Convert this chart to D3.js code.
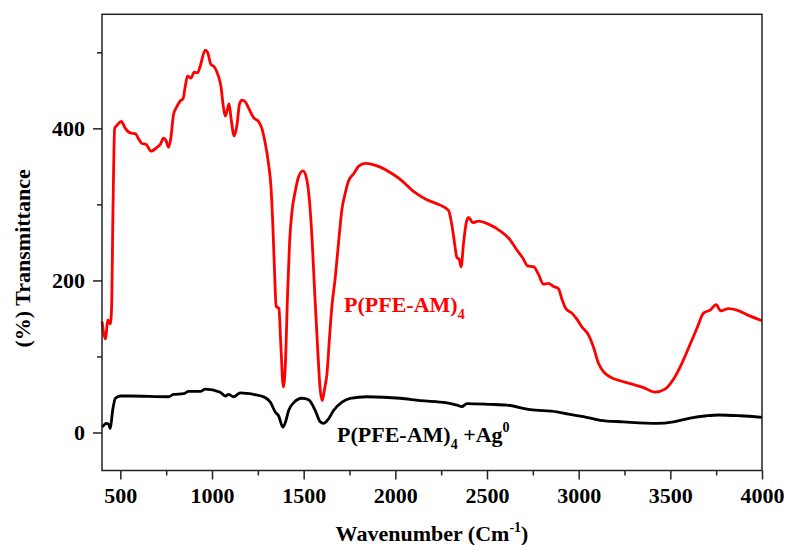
<!DOCTYPE html>
<html>
<head>
<meta charset="utf-8">
<script src="https://cdn.jsdelivr.net/npm/d3@7"></script>
<style>
  html, body { margin: 0; padding: 0; background: #fff; }
  svg text { font-family: "Liberation Serif", "Times New Roman", serif; font-weight: bold; }
</style>
</head>
<body>
<svg id="chart" width="787" height="545"></svg>
<script>
// Wavenumbers (cm-1) and transmittance values
const redX = [400,420,431,445,452,460,469,482,505,527,554,582,600,618,640,667,700,718,736,749,763,776,790,809,827,842,854,867,885,903,921,936,963,976,994,1012,1036,1049,1060,1072,1082,1093,1104,1121,1136,1150,1163,1181,1199,1227,1254,1272,1290,1308,1322,1332,1341,1350,1365,1376,1389,1400,1412,1423,1436,1454,1472,1496,1514,1532,1547,1561,1576,1590,1601,1614,1627,1641,1654,1672,1690,1709,1727,1745,1772,1799,1836,1881,1918,1972,2027,2099,2172,2245,2290,2309,2323,2336,2348,2359,2372,2387,2399,2423,2454,2508,2572,2627,2663,2699,2721,2754,2781,2808,2835,2863,2890,2908,2930,2963,2990,3017,3054,3081,3108,3135,3172,3226,3299,3354,3417,3471,3517,3563,3608,3645,3681,3717,3750,3775,3817,3863,3917,4000];
const redY = [146,123,148,143,162,294,400,404,409,400,394,393,386,380,379,370,375,379,387,384,375,388,418,429,436,439,455,469,466,474,473,482,503,500,484,481,468,455,432,416,423,432,413,390,404,432,437,435,427,414,409,400,381,354,322,272,212,166,163,112,60,89,180,249,290,317,336,344,336,304,249,180,112,57,42,57,77,125,166,203,249,294,315,331,340,350,354,352,349,342,333,317,306,299,292,272,249,230,228,218,249,276,283,276,278,274,265,253,240,228,219,218,208,195,196,192,189,176,163,157,149,139,128,112,91,80,73,68,63,59,53,57,70,91,116,137,157,161,168,160,163,161,155,147];

const blackX = [400,412,423,436,445,458,473,500,554,763,790,845,872,936,963,1045,1072,1090,1118,1154,1227,1281,1318,1345,1363,1387,1400,1418,1445,1491,1527,1563,1590,1608,1636,1663,1709,1754,1845,2027,2136,2281,2336,2363,2390,2518,2608,2736,2881,2945,3026,3117,3244,3426,3517,3608,3699,3763,3880,4000];
const blackY = [7,10,12,11,5,29,45,48,48,47,50,51,54,54,57,53,48,50,47,52,50,47,40,27,22,7,13,29,39,45,43,29,14,12,18,29,40,45,47,45,42,39,36,34,38,37,36,30,27,24,21,16,14,12,14,19,22,23,22,20];

const xMajorTicks = [500,1000,1500,2000,2500,3000,3500,4000];
const xMinorTicks = [750,1250,1750,2250,2750,3250,3750];
const yMajorTicks = [0,200,400];
const yMinorTicks = [100,300,500];

const seriesRedLabel = "P(PFE-AM)";
const seriesBlackLabel = "P(PFE-AM)";

const svg = d3.select("#chart");
const L = 102, R = 762, T = 14.3, B = 470.5;

const x = d3.scaleLinear().domain([400, 4000]).range([L, R]);
const y = d3.scaleLinear().domain([-50, 550]).range([B, T]);

// Curves
const line = d3.line().x(d => x(d[0])).y(d => y(d[1])).curve(d3.curveMonotoneX);
const redData = redX.map((v, i) => [v, redY[i]]);
const blackData = blackX.map((v, i) => [v, blackY[i]]);

svg.append("path").datum(blackData)
  .attr("d", line).attr("fill", "none").attr("stroke", "#000")
  .attr("stroke-width", 2.8).attr("stroke-linejoin", "round");
svg.append("path").datum(redData)
  .attr("d", line).attr("fill", "none").attr("stroke", "#ff0000")
  .attr("stroke-width", 2.8).attr("stroke-linejoin", "round");

// Frame
svg.append("rect").attr("x", L).attr("y", T).attr("width", R - L).attr("height", B - T)
  .attr("fill", "none").attr("stroke", "#222").attr("stroke-width", 1.5);

// Axes
const fs = 22;
const xAxis = svg.append("g").attr("transform", `translate(0,${B})`)
  .call(d3.axisBottom(x).tickValues(xMajorTicks).tickSize(9).tickPadding(8).tickFormat(d3.format("d")));
const xMinor = svg.append("g").attr("transform", `translate(0,${B})`)
  .call(d3.axisBottom(x).tickValues(xMinorTicks).tickSize(5).tickFormat(""));
const yAxis = svg.append("g").attr("transform", `translate(${L},0)`)
  .call(d3.axisLeft(y).tickValues(yMajorTicks).tickSize(9).tickPadding(8).tickFormat(d3.format("d")));
const yMinor = svg.append("g").attr("transform", `translate(${L},0)`)
  .call(d3.axisLeft(y).tickValues(yMinorTicks).tickSize(5).tickFormat(""));

[xAxis, xMinor, yAxis, yMinor].forEach(g => {
  g.select(".domain").remove();
  g.selectAll(".tick line").attr("stroke", "#222").attr("stroke-width", 1.5);
  g.selectAll(".tick text").attr("fill", "#000").style("font-size", fs + "px")
    .style("font-family", '"Liberation Serif", "Times New Roman", serif').style("font-weight", "bold");
});

// Axis titles
const xt = svg.append("text").attr("x", (L + R) / 2).attr("y", 541)
  .attr("text-anchor", "middle").style("font-size", fs + "px").attr("fill", "#000");
xt.append("tspan").text("Wavenumber (Cm");
xt.append("tspan").attr("dy", -9).style("font-size", "14px").text("-1");
xt.append("tspan").attr("dy", 9).text(")");

svg.append("text").attr("transform", `translate(30,${(T + B) / 2 + 16}) rotate(-90)`)
  .attr("text-anchor", "middle").style("font-size", fs + "px").attr("fill", "#000")
  .text("(%) Transmittance");

// Series labels
const rl = svg.append("text").attr("x", 344).attr("y", 311.5)
  .style("font-size", fs + "px").attr("fill", "#ff0000");
rl.append("tspan").text(seriesRedLabel);
rl.append("tspan").attr("dy", 7).style("font-size", "14px").text("4");

const bl = svg.append("text").attr("x", 337).attr("y", 441.5)
  .style("font-size", fs + "px").attr("fill", "#000");
bl.append("tspan").text(seriesBlackLabel);
bl.append("tspan").attr("dy", 7).style("font-size", "14px").text("4");
bl.append("tspan").attr("dy", -7).text(" +Ag");
bl.append("tspan").attr("dy", -10).style("font-size", "14px").text("0");
</script>
</body>
</html>
